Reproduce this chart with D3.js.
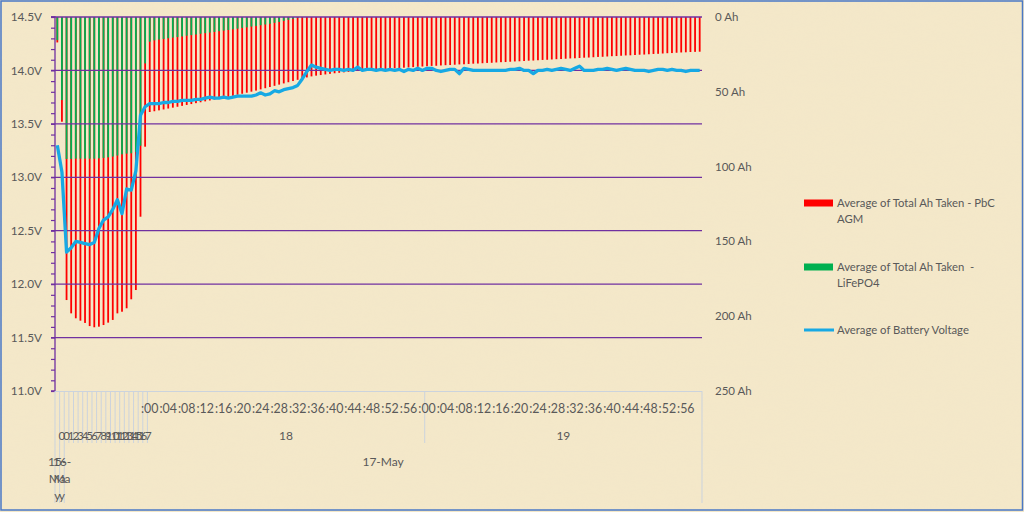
<!DOCTYPE html>
<html><head><meta charset="utf-8">
<script src="https://cdn.jsdelivr.net/npm/d3@7"></script>
<style>html,body{margin:0;padding:0;background:#F3E6C6;}svg{display:block;}</style>
</head><body>
<svg id="chart" width="1024" height="512"></svg>
<script>
// ---- Category labels ----
const dateGroups = ["15-May", "16-May", "17-May"];
const earlyHours = ["", "0", "0","1","2","3","4","5","6","7","8","9","10","11","12","13","14","15","16","17"];
const minuteHours = ["18", "19"];
const minuteTickLabels = [":00",":04",":08",":12",":16",":20",":24",":28",":32",":36",":40",":44",":48",":52",":56"];

// ---- Series values (one per category, 140 categories) ----
const batteryVoltage = [
 13.30,13.05,12.30,12.34,12.40,12.39,12.38,12.37,12.39,12.52,
 12.60,12.63,12.70,12.79,12.66,12.89,12.88,13.06,13.58,13.66,
 13.69,13.69,13.69,13.70,13.70,13.71,13.71,13.72,13.72,13.72,
 13.73,13.73,13.74,13.75,13.74,13.74,13.75,13.74,13.75,13.76,
 13.76,13.76,13.76,13.77,13.79,13.77,13.78,13.81,13.80,13.82,
 13.83,13.84,13.86,13.92,13.99,14.05,14.03,14.02,14.01,14.00,
 14.01,14.01,14.00,14.01,14.00,14.03,14.00,14.01,14.01,14.00,
 14.01,14.00,14.01,14.00,14.01,13.99,14.01,14.00,14.02,14.00,
 14.02,14.02,14.00,13.99,14.00,14.01,14.01,13.97,14.02,14.01,
 14.00,14.00,14.00,14.00,14.00,14.00,14.00,14.00,14.01,14.01,
 14.02,14.00,14.00,13.97,14.00,14.00,14.01,14.00,14.01,14.02,
 14.01,14.00,14.02,14.04,14.00,14.00,14.00,14.01,14.01,14.02,
 14.01,14.00,14.01,14.02,14.01,14.00,14.00,14.00,13.99,14.00,
 14.01,14.01,14.00,14.01,14.00,14.00,13.99,14.00,14.00,14.00
];
const ahTakenPbC = [
 17.0,70.0,189.2,198.1,201.4,203.0,204.5,206.6,207.4,207.0,
 205.9,204.3,202.5,198.1,197.0,194.7,188.7,182.5,133.5,86.7,
 63.5,63.0,62.4,61.8,61.2,60.6,60.0,59.4,58.8,58.2,
 57.6,57.0,56.4,55.8,55.2,54.6,54.0,53.4,52.7,52.0,
 51.3,50.6,49.9,49.2,48.4,47.6,46.8,46.0,45.2,44.4,
 43.6,42.8,42.0,41.2,40.4,39.7,39.2,38.8,38.4,38.0,
 37.6,37.3,37.0,36.7,36.4,36.1,35.8,35.6,35.3,35.1,
 34.9,34.7,34.5,34.3,34.1,33.9,33.7,33.5,33.3,33.1,
 32.9,32.7,32.6,32.4,32.2,32.1,31.9,31.7,31.6,31.4,
 31.2,31.1,30.9,30.7,30.6,30.4,30.2,30.1,29.9,29.7,
 29.6,29.4,29.2,29.1,28.9,28.7,28.6,28.4,28.2,28.1,
 27.9,27.7,27.6,27.4,27.2,27.1,26.9,26.7,26.6,26.4,
 26.2,26.1,25.9,25.7,25.6,25.4,25.2,25.1,24.9,24.7,
 24.6,24.4,24.2,24.1,23.9,23.7,23.6,23.4,23.3,23.2
];
const ahTakenLiFePO4 = [
 15.5,55.5,94.9,94.9,94.7,94.7,94.7,94.7,94.7,94.5,
 94.2,93.8,93.3,92.6,91.8,91.3,91.1,90.2,86.0,31.0,
 16.5,15.6,15.1,14.7,14.2,13.8,13.4,13.0,12.5,12.1,
 11.7,11.2,10.8,10.4,10.0,9.5,9.1,8.7,8.2,7.8,
 7.3,6.9,6.4,6.0,5.5,5.0,4.5,3.9,3.3,2.6,
 1.9,1.2,0.6,0.2,0,0,0,0,0,0,
 0,0,0,0,0,0,0,0,0,0, 0,0,0,0,0,0,0,0,0,0,
 0,0,0,0,0,0,0,0,0,0, 0,0,0,0,0,0,0,0,0,0,
 0,0,0,0,0,0,0,0,0,0, 0,0,0,0,0,0,0,0,0,0,
 0,0,0,0,0,0,0,0,0,0, 0,0,0,0,0,0,0,0,0,0
];
const voltTicks = [11.0, 11.5, 12.0, 12.5, 13.0, 13.5, 14.0, 14.5];
const ahTicks = [0, 50, 100, 150, 200, 250];
const legendNames = [["Average of Total Ah Taken - PbC", "AGM"], ["Average of Total Ah Taken  -", "LiFePO4"], ["Average of Battery Voltage"]];

(function () {
const categories = [];
earlyHours.forEach((h, i) => categories.push({date: i === 0 ? dateGroups[0] : (i === 1 ? dateGroups[1] : dateGroups[2]), hour: h, minute: null}));
minuteHours.forEach(h => { for (let m = 0; m < 60; m++) categories.push({date: dateGroups[2], hour: h, minute: m}); });

const svg = d3.select("#chart");
const W = 1024, H = 512;
const pLeft = 55, pRight = 702, pTop = 17, pBottom = 391;
const font = "Lato, 'Open Sans', sans-serif";
const txt = "#595959";

const defs = svg.append("defs");
const f = defs.append("filter").attr("id", "paper").attr("x", 0).attr("y", 0).attr("width", "100%").attr("height", "100%");
f.append("feTurbulence").attr("type", "fractalNoise").attr("baseFrequency", "0.02 0.15").attr("numOctaves", 3).attr("seed", 4).attr("result", "n");
f.append("feColorMatrix").attr("in", "n").attr("type", "matrix")
  .attr("values", "0 0 0 0 0.85  0 0 0 0 0.76  0 0 0 0 0.58  0 0 0 0.35 -0.05");
svg.append("rect").attr("width", W).attr("height", H).attr("fill", "#F4E8C9");
svg.append("rect").attr("width", W).attr("height", H).attr("filter", "url(#paper)").attr("opacity", 0.5);
svg.append("rect").attr("x", 1).attr("y", 1).attr("width", W - 2.5).attr("height", H - 3).attr("fill", "none").attr("stroke", "#4A78C6").attr("stroke-width", 1.5);

const x = d3.scaleBand().domain(d3.range(categories.length)).range([pLeft, pRight]).padding(0);
const yV = d3.scaleLinear().domain([11, 14.5]).range([pBottom, pTop]);
const yAh = d3.scaleLinear().domain([0, 250]).range([pTop, pBottom]);
const bw = 1.8;

svg.append("g").selectAll("rect").data(ahTakenPbC).join("rect")
  .attr("x", (d, i) => x(i) + x.bandwidth() / 2 - bw / 2).attr("width", bw)
  .attr("y", yAh(0)).attr("height", d => yAh(d) - yAh(0)).attr("fill", "#FF0000");
svg.append("g").selectAll("rect").data(ahTakenLiFePO4).join("rect")
  .attr("x", (d, i) => x(i) + x.bandwidth() / 2 - bw / 2).attr("width", bw)
  .attr("y", yAh(0)).attr("height", d => yAh(d) - yAh(0)).attr("fill", "#00B050");

svg.append("g").selectAll("line").data(voltTicks.filter(v => v > 11)).join("line")
  .attr("x1", pLeft - 4).attr("x2", pRight).attr("y1", d => yV(d)).attr("y2", d => yV(d))
  .attr("stroke", "#7030A0").attr("stroke-width", 1.3);

const leftAxis = d3.axisLeft(yV).tickValues(d3.range(110, 146).map(v => v / 10)).tickSize(4).tickFormat("");
const la = svg.append("g").attr("transform", `translate(${pLeft},0)`).call(leftAxis);
la.select(".domain").attr("stroke", "#7030A0").attr("stroke-width", 1.3).attr("d", `M-4,${pTop}H0V${pBottom}H-4`);
la.selectAll(".tick line").attr("stroke", "#7030A0").attr("stroke-width", 1.2);
svg.append("g").selectAll("text").data(voltTicks).join("text")
  .attr("x", 42).attr("y", d => yV(d)).attr("dy", "0.35em").attr("text-anchor", "end")
  .attr("font-family", font).attr("font-size", 11.8).attr("fill", txt).text(d => d.toFixed(1) + "V");

svg.append("g").selectAll("text").data(ahTicks).join("text")
  .attr("x", 715).attr("y", d => yAh(d)).attr("dy", "0.35em")
  .attr("font-family", font).attr("font-size", 11.5).attr("fill", txt).text(d => d + " Ah");

const axg = svg.append("g");
const lc = "#CBD3DD";
axg.append("line").attr("x1", pLeft).attr("x2", pRight).attr("y1", pBottom + 0.5).attr("y2", pBottom + 0.5).attr("stroke", lc);
axg.append("line").attr("x1", pRight).attr("x2", pRight).attr("y1", pBottom).attr("y2", 503).attr("stroke", lc);
[0, 1, 2].forEach(i => axg.append("line").attr("x1", x(i)).attr("x2", x(i)).attr("y1", pBottom).attr("y2", 503).attr("stroke", lc));
const hourBoundaries = d3.range(3, earlyHours.length + 1).concat([earlyHours.length + 60]);
hourBoundaries.forEach(i => axg.append("line").attr("x1", x(i)).attr("x2", x(i)).attr("y1", pBottom).attr("y2", 443).attr("stroke", lc));

categories.forEach((c, i) => {
  if (c.minute !== null && c.minute % 4 === 0) {
    axg.append("text").attr("x", x(i) + x.bandwidth() / 2).attr("y", 409).attr("dy", "0.35em")
      .attr("text-anchor", "middle").attr("font-family", font).attr("font-size", 12.4).attr("fill", txt)
      .text(minuteTickLabels[c.minute / 4]);
  }
});
categories.forEach((c, i) => {
  if (c.minute === null && c.hour) {
    axg.append("text").attr("x", x(i) + x.bandwidth() / 2).attr("y", 436).attr("dy", "0.35em")
      .attr("text-anchor", "middle").attr("font-family", font).attr("font-size", 11.5).attr("fill", txt).text(c.hour);
  }
});
minuteHours.forEach(h => {
  const idx = categories.map((c, i) => c.hour === h && c.minute !== null ? i : -1).filter(i => i >= 0);
  const cx = (x(idx[0]) + x(idx[idx.length - 1]) + x.bandwidth()) / 2;
  axg.append("text").attr("x", cx).attr("y", 436).attr("dy", "0.35em").attr("text-anchor", "middle")
    .attr("font-family", font).attr("font-size", 12).attr("fill", txt).text(h);
});
dateGroups.forEach((d) => {
  const idx = categories.map((c, i) => c.date === d ? i : -1).filter(i => i >= 0);
  const cx = (x(idx[0]) + x(idx[idx.length - 1]) + x.bandwidth()) / 2;
  const lines = idx.length > 2 ? [d] : [d.split("-")[0] + "-", d.split("-")[1].slice(0, 2), d.split("-")[1].slice(2)];
  lines.forEach((ln, k) => axg.append("text").attr("x", cx).attr("y", 462 + k * 16.8).attr("dy", "0.35em")
    .attr("text-anchor", "middle").attr("font-family", font).attr("font-size", 12).attr("fill", txt).text(ln));
});

svg.append("path").datum(batteryVoltage)
  .attr("d", d3.line().x((d, i) => x(i) + x.bandwidth() / 2).y(d => yV(d)))
  .attr("fill", "none").attr("stroke", "#17A9E4").attr("stroke-width", 3.3).attr("stroke-linejoin", "round");

const lg = svg.append("g").attr("font-family", font).attr("font-size", 11.3).attr("fill", txt);
const legY = [203, 267, 330];
lg.append("rect").attr("x", 804).attr("y", legY[0] - 3.5).attr("width", 29).attr("height", 7).attr("fill", "#FF0000");
lg.append("rect").attr("x", 804).attr("y", legY[1] - 3.5).attr("width", 29).attr("height", 7).attr("fill", "#00B050");
lg.append("line").attr("x1", 804).attr("x2", 834).attr("y1", legY[2]).attr("y2", legY[2]).attr("stroke", "#17A9E4").attr("stroke-width", 3);
legendNames.forEach((names, k) => names.forEach((t, j) =>
  lg.append("text").attr("x", 837).attr("y", legY[k] + j * 16).attr("dy", "0.35em").style("white-space", "pre").text(t)));
})();
</script>
</body></html>
